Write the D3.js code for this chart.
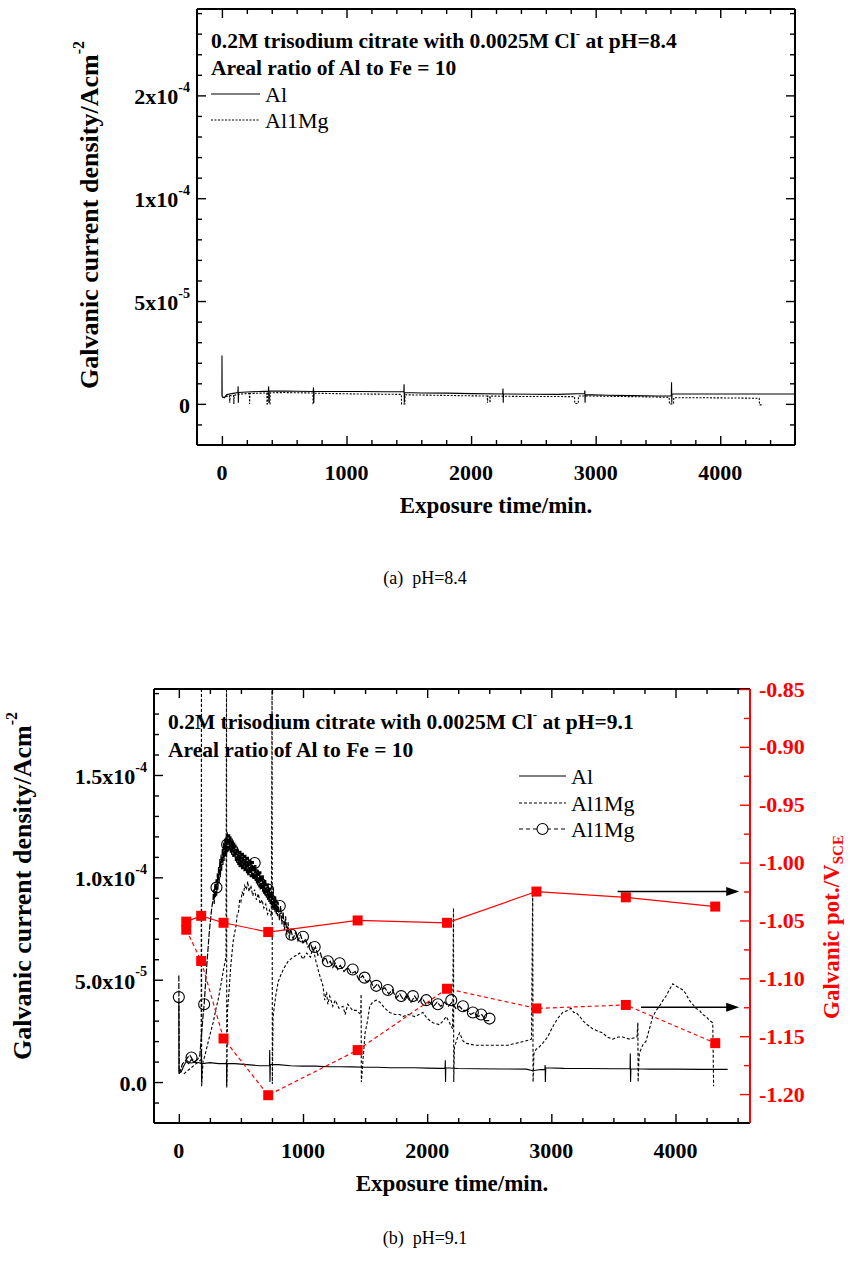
<!DOCTYPE html>
<html><head><meta charset="utf-8">
<script src="https://cdn.jsdelivr.net/npm/d3@7"></script>
<style>
body{margin:0;background:#fff;}
svg{display:block;}
text{font-family:"Liberation Serif","Times New Roman",serif;}
</style></head><body>
<svg id="c" width="851" height="1271"></svg>
<script>
// ---------- axes / ticks ----------
const xDomain=[-200,4600];
const curDomain=[-2,19.2];            // galvanic current density in 1e-5 A cm^-2
const potDomain=[-1.225,-0.85];       // V_SCE
const timeTicks=[0,1000,2000,3000,4000];
const timeTickLabels=["0","1000","2000","3000","4000"];
const curTicks=[0,5,10,15];
const topCurLabels=[["0",""],["5x10","-5"],["1x10","-4"],["2x10","-4"]];
const botCurLabels=[["0.0",""],["5.0x10","-5"],["1.0x10","-4"],["1.5x10","-4"]];
const potTicks=[-0.85,-0.90,-0.95,-1.00,-1.05,-1.10,-1.15,-1.20];
const potTickLabels=["-0.85","-0.90","-0.95","-1.00","-1.05","-1.10","-1.15","-1.20"];

// ---------- (a) pH=8.4 : [time/min, current /1e-5 A cm^-2] ----------
const a_Al=[[0,0.4],[0.5,2.35],[2,0.35],[20,0.3],[40,0.45],[80,0.5],[128,0.55],[130,0.85],[132,0.05],[134,0.55],
[200,0.58],[300,0.6],[373,0.62],[375,0.85],[377,0.05],[379,0.62],[500,0.62],[600,0.61],[733,0.6],[735,0.8],[737,0.05],[739,0.6],
[900,0.6],[1100,0.6],[1300,0.59],[1460,0.59],[1462,0.95],[1464,0.05],[1466,0.55],[1600,0.53],[1800,0.52],[2000,0.5],
[2254,0.48],[2256,0.75],[2258,0.05],[2260,0.48],[2500,0.47],[2700,0.46],[2911,0.5],[2913,0.65],[2915,0.05],[2917,0.45],
[3100,0.42],[3300,0.4],[3500,0.38],[3607,0.38],[3609,1.05],[3611,0.05],[3613,0.48],[3800,0.48],[4000,0.48],[4200,0.48],[4600,0.48]];
const a_Al1Mg=[[5,0.3],[30,0.35],[60,0.4],[63,0.05],[66,0.4],[94,0.4],[96,0.0],[98,0.42],[150,0.48],[200,0.5],[220,0.5],[222,0.0],[225,0.5],
[300,0.52],[360,0.53],[362,0.0],[366,0.0],[368,0.53],[380,0.53],[382,0.0],[386,0.0],[388,0.54],[500,0.55],[600,0.54],
[730,0.53],[732,0.0],[736,0.0],[738,0.52],[900,0.5],[1100,0.48],[1300,0.47],[1440,0.46],[1442,0.0],[1468,0.0],[1470,0.44],
[1700,0.42],[1900,0.4],[2130,0.38],[2132,0.05],[2134,0.38],[2150,0.38],[2152,0.05],[2154,0.38],[2400,0.36],[2600,0.36],
[2830,0.35],[2832,0.02],[2860,0.02],[2862,0.38],[3000,0.38],[3200,0.36],[3400,0.34],[3590,0.32],[3592,0.0],[3625,0.0],[3627,0.3],
[3800,0.3],[4000,0.29],[4200,0.28],[4313,0.27],[4315,-0.05],[4345,-0.05]];

// ---------- (b) pH=9.1 ----------
const b_Al=[[0,3.9],[1,0.45],[20,0.5],[40,0.8],[60,1.0],[80,0.9],[100,1.1],[130,0.95],[160,0.95],[180,0.9],[182,1.5],[183,0],[186,0.9],
[250,0.95],[320,0.9],[380,0.9],[384,1.0],[385,-0.15],[388,0.9],[450,0.9],[550,0.85],[650,0.8],[730,0.8],[732,1.56],[734,0],[737,0.85],
[800,0.85],[900,0.8],[1000,0.78],[1100,0.78],[1200,0.75],[1300,0.75],[1400,0.74],[1500,0.72],[1600,0.72],[1700,0.7],[1800,0.7],
[1900,0.7],[2000,0.68],[2100,0.67],[2144,0.67],[2146,1.07],[2148,0],[2150,0.7],[2250,0.66],[2400,0.65],[2600,0.64],[2800,0.63],
[2850,0.55],[2900,0.6],[2948,0.62],[2950,0.83],[2952,0],[2955,0.7],[3100,0.67],[3300,0.66],[3500,0.65],[3634,0.65],[3636,1.4],
[3638,0],[3641,0.65],[3800,0.63],[4000,0.63],[4200,0.62],[4420,0.62]];
const b_Al1Mg=[[40,0.4],[80,0.6],[120,0.8],[160,1.0],[180,1.1],[182,19.5],[184,-0.2],[195,1.0],[210,1.3],[230,1.8],[250,2.3],
[276,2.9],[300,3.6],[316,4.0],[340,4.8],[360,5.5],[380,6.1],[384,19.5],[386,-0.3],[392,3.5],[405,4.5],[420,5.8],[440,7.0],
[460,7.6],[470,8.2],[480,8.3],[490,8.9],[500,8.8],[510,9.3],[520,9.1],[530,9.6],[544,9.4],[555,9.8],[565,9.3],[580,9.6],
[595,9.1],[610,9.4],[625,8.9],[640,9.2],[655,8.7],[670,8.9],[685,8.5],[700,8.7],[715,8.2],[730,8.4],[745,8.1],[751,19.5],[753,-0.1],
[759,3.2],[780,4.2],[800,4.9],[826,5.3],[850,5.6],[880,5.9],[920,6.1],[950,6.2],[973,6.3],[1000,6.0],[1030,6.3],[1060,6.1],
[1081,6.6],[1100,6.0],[1130,5.3],[1161,4.7],[1175,4.0],[1190,4.4],[1200,3.8],[1215,4.2],[1240,3.7],[1260,4.0],[1290,3.6],[1322,3.7],
[1340,3.3],[1360,3.8],[1400,3.5],[1430,3.5],[1465,3.3],[1468,4.3],[1470,0],[1480,0.8],[1500,2.4],[1520,3.0],[1537,3.7],[1560,3.9],
[1590,4.0],[1620,3.9],[1660,3.6],[1697,3.4],[1740,3.3],[1780,3.3],[1805,3.2],[1850,3.3],[1900,3.2],[1966,3.4],[2000,3.1],
[2046,2.9],[2100,2.8],[2130,3.0],[2153,3.2],[2180,2.9],[2205,2.6],[2212,8.5],[2214,0],[2220,1.7],[2240,2.1],[2261,2.4],
[2290,2.0],[2314,1.9],[2380,1.8],[2448,1.8],[2520,1.8],[2583,1.8],[2650,1.8],[2717,1.9],[2790,2.0],[2840,2.1],[2850,9.4],
[2853,0],[2860,1.4],[2877,1.6],[2900,1.7],[2931,1.9],[2970,2.2],[3011,2.7],[3050,3.1],[3092,3.4],[3130,3.5],[3159,3.6],
[3180,3.4],[3199,3.4],[3230,3.2],[3253,3.0],[3290,2.8],[3333,2.6],[3370,2.5],[3414,2.4],[3450,2.2],[3494,2.1],[3540,2.2],
[3575,2.2],[3630,2.1],[3690,2.2],[3697,2.9],[3699,0],[3705,1.0],[3709,1.4],[3735,1.8],[3763,2.0],[3790,2.6],[3817,3.2],
[3845,3.5],[3870,3.7],[3900,4.0],[3924,4.2],[3950,4.5],[3978,4.8],[4000,4.7],[4032,4.6],[4060,4.5],[4085,4.3],[4110,4.0],
[4139,3.8],[4165,3.6],[4193,3.5],[4220,3.3],[4246,3.2],[4275,3.0],[4300,2.9],[4307,-0.2]];
const b_Al1MgO=[[0,5.2],[3,0.4],[15,0.6],[30,0.9],[50,1.0],[70,1.2],[90,1.3],[110,1.1],[130,1.0],[150,1.1],[169,1.3],[180,2.1],
[190,2.9],[204,3.8],[215,4.8],[225,5.7],[235,6.5],[245,7.3],[255,7.9],[265,8.5],[275,8.9],
[280,9.4],[285,8.7],[290,9.7],[295,9.0],[300,9.9],[305,9.1],[310,10.2],[315,9.4],[320,10.5],[325,9.7],[330,10.9],[335,10.0],
[340,11.1],[345,10.3],[350,11.4],[355,10.6],[360,11.7],[365,10.8],[370,11.9],[375,11.0],[380,12.0],[385,11.1],[390,12.2],[395,11.2],
[400,12.1],[405,11.3],[410,12.1],[415,11.2],[420,12.0],[425,11.1],[430,11.9],[435,11.0],[440,11.8],[445,11.0],[450,11.7],[455,10.8],
[460,11.6],[465,10.7],[470,11.5],[475,10.6],[480,11.4],[485,10.5],[490,11.3],[495,10.5],[500,11.3],[505,10.4],[510,11.2],[515,10.4],
[520,11.2],[525,10.3],[530,11.1],[535,10.3],[540,11.1],[545,10.2],[550,11.0],[555,10.1],[560,11.0],[565,10.1],[570,10.9],[575,10.0],
[580,10.9],[585,10.0],[590,10.8],[595,9.9],[600,10.8],[605,9.9],[610,10.6],[615,9.8],[620,10.6],[625,9.7],[630,10.4],[635,9.6],
[640,10.4],[645,9.5],[650,10.3],[655,9.4],[660,10.3],[665,9.4],[670,10.1],[675,9.3],[680,10.1],[685,9.2],[690,9.9],[695,9.1],
[700,9.9],[705,9.0],[710,9.7],[715,8.9],[720,9.7],[725,8.8],[730,9.5],[735,8.7],[740,9.5],[745,8.6],[750,9.3],[755,8.5],
[760,9.3],[765,8.4],[770,9.1],[775,8.3],[780,9.1],[785,8.2],[790,8.9],[795,8.1],[800,8.8],[810,7.9],[820,8.6],[830,7.7],
[840,8.3],[850,7.4],[860,8.1],[870,7.2],[880,7.8],[890,7.0],[900,7.5],[920,7.0],[940,7.3],[960,6.9],[980,7.2],[1000,6.8],
[1020,7.0],[1040,6.6],[1060,6.8],[1080,6.4],[1100,6.6],[1120,6.2],[1140,6.3],[1160,5.9],[1180,6.1],[1200,5.8],[1220,5.9],
[1240,5.6],[1260,5.8],[1280,5.5],[1300,5.7],[1330,5.4],[1360,5.6],[1390,5.3],[1420,5.4],[1450,5.0],[1480,5.2],[1510,4.9],
[1540,5.0],[1570,4.6],[1600,4.8],[1630,4.5],[1660,4.6],[1690,4.3],[1720,4.5],[1750,4.1],[1780,4.3],[1810,4.0],[1840,4.3],
[1870,3.9],[1900,4.2],[1930,3.9],[1960,4.1],[1990,3.8],[2020,3.9],[2050,3.7],[2080,3.9],[2110,3.7],[2140,3.9],[2170,3.7],
[2200,3.9],[2230,3.6],[2260,3.7],[2290,3.5],[2320,3.5],[2350,3.3],[2380,3.4],[2410,3.2],[2440,3.3],[2470,3.0],[2500,3.0]];
const b_Al1MgOMarks=[[0,4.15],[102,1.2],[204,3.8],[303,9.5],[389,11.6],[611,10.7],[719,9.4],[813,8.6],[906,7.2],[1000,7.1],
[1094,6.6],[1200,5.9],[1295,5.8],[1400,5.5],[1496,5.1],[1590,4.7],[1684,4.5],[1791,4.2],[1885,4.2],[1993,4.0],[2086,3.8],
[2194,4.0],[2288,3.7],[2368,3.4],[2435,3.3],[2502,3.1]];
const potTimes=[60,180,360,720,1440,2160,2880,3600,4320];
const potSolid=[-1.051,-1.046,-1.052,-1.060,-1.050,-1.052,-1.025,-1.030,-1.038];
const potDashed=[-1.058,-1.085,-1.152,-1.201,-1.162,-1.109,-1.126,-1.123,-1.156];
const arrowFrom=[3534,3722];
const arrowTo=4513;
const arrowPot=[-1.025,-1.125];

// ---------- drawing ----------
const svg=d3.select("#c");
const RED="#ff0000";

function supLabel(sel,parts,sz){
  sel.append("tspan").text(parts[0]);
  if(parts[1]) sel.append("tspan").attr("font-size",sz*0.64).attr("dy",-sz*0.42).text(parts[1]);
}

function frameAxes(box,minorStep,curLabels,rightMirror){
  const x=d3.scaleLinear().domain(xDomain).range([box.L,box.R]);
  const y=d3.scaleLinear().domain(curDomain).range([box.B,box.T]);
  const g=svg.append("g");
  const xMinor=d3.range(0,4600,minorStep).filter(v=>timeTicks.indexOf(v)<0);
  const yMinor=d3.range(-1,19.2,1).filter(v=>curTicks.indexOf(v)<0);
  function ax(fn,scale,vals,size,tr,col){
    const a=g.append("g").attr("transform",tr).call(fn(scale).tickValues(vals).tickSize(size).tickFormat(""));
    a.select(".domain").remove();
    a.selectAll(".tick line").attr("stroke",col||"#000").attr("stroke-width",1.4);
    return a;
  }
  ax(d3.axisBottom,x,timeTicks,-9,`translate(0,${box.B})`);
  ax(d3.axisBottom,x,xMinor,-5,`translate(0,${box.B})`);
  ax(d3.axisTop,x,timeTicks,-9,`translate(0,${box.T})`);
  ax(d3.axisTop,x,xMinor,-5,`translate(0,${box.T})`);
  ax(d3.axisLeft,y,curTicks,-9,`translate(${box.L},0)`);
  ax(d3.axisLeft,y,yMinor,-5,`translate(${box.L},0)`);
  if(rightMirror){
    ax(d3.axisRight,y,curTicks,-9,`translate(${box.R},0)`);
    ax(d3.axisRight,y,yMinor,-5,`translate(${box.R},0)`);
  }
  g.selectAll(".xl").data(timeTicks).enter().append("text")
    .attr("x",d=>x(d)).attr("y",box.B+27).attr("text-anchor","middle").attr("dominant-baseline","central")
    .attr("font-size",22).attr("font-weight","bold").text((d,i)=>timeTickLabels[i]);
  g.selectAll(".yl").data(curTicks).enter().append("text")
    .attr("x",box.L-7).attr("y",d=>y(d)+1).attr("text-anchor","end").attr("dominant-baseline","central")
    .attr("font-size",22).attr("font-weight","bold").each(function(d,i){supLabel(d3.select(this),curLabels[i],22);});
  g.append("line").attr("x1",box.L).attr("x2",box.R).attr("y1",box.T).attr("y2",box.T).attr("stroke","#000").attr("stroke-width",2);
  g.append("line").attr("x1",box.L).attr("x2",box.R).attr("y1",box.B).attr("y2",box.B).attr("stroke","#000").attr("stroke-width",2);
  g.append("line").attr("x1",box.L).attr("x2",box.L).attr("y1",box.T).attr("y2",box.B).attr("stroke","#000").attr("stroke-width",2);
  if(rightMirror) g.append("line").attr("x1",box.R).attr("x2",box.R).attr("y1",box.T).attr("y2",box.B).attr("stroke","#000").attr("stroke-width",2);
  g.append("text").attr("x",(box.L+box.R)/2).attr("y",box.B+60).attr("text-anchor","middle").attr("dominant-baseline","central")
    .attr("font-size",23).attr("font-weight","bold").text("Exposure time/min.");
  const yt=g.append("text").attr("transform",`translate(${box.yTitleX},${box.yTitleY}) rotate(-90)`)
    .attr("text-anchor","middle").attr("dominant-baseline","central").attr("font-size",26).attr("font-weight","bold");
  yt.append("tspan").text("Galvanic current density/Acm");
  yt.append("tspan").attr("font-size",16).attr("dy",-11).text("-2");
  return {x,y,g};
}

function clipG(id,box){
  svg.append("clipPath").attr("id",id).append("rect").attr("x",box.L).attr("y",box.T).attr("width",box.R-box.L).attr("height",box.B-box.T);
  return svg.append("g").attr("clip-path",`url(#${id})`);
}

function drawLine(g,x,y,data,dash,w){
  g.append("path").datum(data).attr("fill","none").attr("stroke","#000").attr("stroke-width",w||1.1)
   .attr("stroke-dasharray",dash||null)
   .attr("d",d3.line().x(d=>x(d[0])).y(d=>y(d[1])));
}

function annot(x0,y1,y2,ph){
  const t1=svg.append("text").attr("x",x0).attr("y",y1).attr("dominant-baseline","central").attr("font-size",21.5).attr("font-weight","bold");
  t1.append("tspan").text("0.2M trisodium citrate with 0.0025M Cl");
  t1.append("tspan").attr("font-size",13).attr("dy",-8).text("-");
  t1.append("tspan").attr("dy",8).text(" at pH="+ph);
  svg.append("text").attr("x",x0).attr("y",y2).attr("dominant-baseline","central").attr("font-size",21.5).attr("font-weight","bold")
    .text("Areal ratio of Al to Fe = 10");
}
function legendItem(x1,x2,yy,label,dash,circle){
  svg.append("line").attr("x1",x1).attr("x2",x2).attr("y1",yy).attr("y2",yy).attr("stroke","#000").attr("stroke-width",1.1)
    .attr("stroke-dasharray",dash||null);
  if(circle) svg.append("circle").attr("cx",(x1+x2)/2).attr("cy",yy).attr("r",5.5).attr("fill","#fff").attr("stroke","#000").attr("stroke-width",1.1);
  svg.append("text").attr("x",x2+5).attr("y",yy).attr("dominant-baseline","central").attr("font-size",22).text(label);
}

// ===== chart (a)
const boxA={L:197,R:795,T:9,B:445,yTitleX:89,yTitleY:215};
const A=frameAxes(boxA,200,topCurLabels,true);
const gA=clipG("clipA",boxA);
drawLine(gA,A.x,A.y,a_Al1Mg,"2,1.5",1.1);
drawLine(gA,A.x,A.y,a_Al,null,1.1);
annot(211,41,68,"8.4");
legendItem(211,260,94,"Al",null,false);
legendItem(211,260,120,"Al1Mg","2,1.5",false);
svg.append("text").attr("x",425).attr("y",578).attr("text-anchor","middle").attr("dominant-baseline","central")
  .attr("font-size",18).text("(a)\u00a0\u00a0pH=8.4");

// ===== chart (b)
const boxB={L:154,R:750,T:689,B:1123,yTitleX:22,yTitleY:886};
const B=frameAxes(boxB,250,botCurLabels,false);
const p=d3.scaleLinear().domain(potDomain).range([boxB.B,boxB.T]);
const potMinor=d3.range(-1.225,-0.85,0.025).map(v=>+v.toFixed(3)).filter(v=>!potTicks.some(t=>Math.abs(t-v)<1e-6)&&v>-1.224);
const ra=svg.append("g").attr("transform",`translate(${boxB.R},0)`).call(d3.axisRight(p).tickValues(potTicks).tickSize(-10).tickFormat(""));
ra.select(".domain").remove(); ra.selectAll(".tick line").attr("stroke",RED).attr("stroke-width",1.4);
const rb=svg.append("g").attr("transform",`translate(${boxB.R},0)`).call(d3.axisRight(p).tickValues(potMinor).tickSize(-6).tickFormat(""));
rb.select(".domain").remove(); rb.selectAll(".tick line").attr("stroke",RED).attr("stroke-width",1.4);
svg.append("line").attr("x1",boxB.R).attr("x2",boxB.R).attr("y1",boxB.T).attr("y2",boxB.B).attr("stroke",RED).attr("stroke-width",2);
svg.selectAll(".pl").data(potTicks).enter().append("text").attr("x",boxB.R+9).attr("y",d=>p(d)).attr("dominant-baseline","central")
  .attr("font-size",22).attr("font-weight","bold").attr("fill",RED).text((d,i)=>potTickLabels[i]);
const rt=svg.append("text").attr("transform",`translate(831,927) rotate(-90)`).attr("text-anchor","middle").attr("dominant-baseline","central")
  .attr("font-size",23).attr("font-weight","bold").attr("fill",RED);
rt.append("tspan").text("Galvanic pot./V");
rt.append("tspan").attr("font-size",15).attr("dy",7).text("SCE");

const gB=clipG("clipB",boxB);
drawLine(gB,B.x,B.y,b_Al1Mg,"3,2",1.1);
drawLine(gB,B.x,B.y,b_Al1MgO,"6,1.5",1.2);
drawLine(gB,B.x,B.y,b_Al,null,1.1);
gB.selectAll(".om").data(b_Al1MgOMarks).enter().append("circle").attr("cx",d=>B.x(d[0])).attr("cy",d=>B.y(d[1])).attr("r",5.5)
  .attr("fill","none").attr("stroke","#000").attr("stroke-width",1.1);
const potS=potTimes.map((t,i)=>[t,potSolid[i]]), potD=potTimes.map((t,i)=>[t,potDashed[i]]);
const pline=d3.line().x(d=>B.x(d[0])).y(d=>p(d[1]));
gB.append("path").datum(potD).attr("fill","none").attr("stroke",RED).attr("stroke-width",1.2).attr("stroke-dasharray","4,3").attr("d",pline);
gB.append("path").datum(potS).attr("fill","none").attr("stroke",RED).attr("stroke-width",1.2).attr("d",pline);
gB.selectAll(".sq").data(potS.concat(potD)).enter().append("rect").attr("x",d=>B.x(d[0])-5).attr("y",d=>p(d[1])-5)
  .attr("width",10).attr("height",10).attr("fill",RED);
arrowPot.forEach((v,i)=>{
  const x1=B.x(arrowFrom[i]), x2=B.x(arrowTo), yy=p(v);
  svg.append("line").attr("x1",x1).attr("x2",x2-10).attr("y1",yy).attr("y2",yy).attr("stroke","#000").attr("stroke-width",1.4);
  svg.append("path").attr("d",`M${x2},${yy}L${x2-13},${yy-4.5}L${x2-13},${yy+4.5}Z`).attr("fill","#000");
});
annot(168,722,750,"9.1");
legendItem(519,566,776,"Al",null,false);
legendItem(519,566,803,"Al1Mg","3,2",false);
legendItem(519,566,829,"Al1Mg","4,3",true);
svg.append("text").attr("x",425).attr("y",1238).attr("text-anchor","middle").attr("dominant-baseline","central")
  .attr("font-size",18).text("(b)\u00a0\u00a0pH=9.1");
</script></body></html>
